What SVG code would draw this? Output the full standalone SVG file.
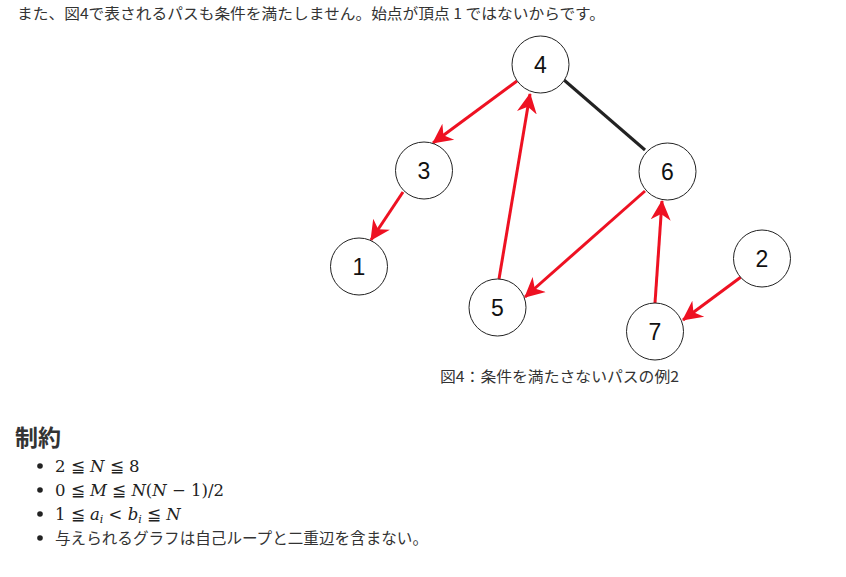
<svg xmlns="http://www.w3.org/2000/svg" width="846" height="577" viewBox="0 0 846 577">
<style>
.txt{font-family:"Noto Sans CJK JP","Liberation Sans",sans-serif;fill:#333}
.node circle{fill:#fff;stroke:#222;stroke-width:1}
.node text{font-family:"Liberation Sans","Noto Sans",sans-serif;font-size:23px;fill:#111;text-anchor:middle;dominant-baseline:central}
.red{stroke:#ee1122;stroke-width:3;fill:none}
.blk{stroke:#222;stroke-width:3;fill:none}
.math{font-family:"DejaVu Serif","Liberation Serif",serif;font-size:16.5px;fill:#222}
.it{font-style:italic}
</style>
<defs>
<marker id="ah" markerWidth="22" markerHeight="22" viewBox="0 0 22 22" refX="19" refY="11" orient="auto" markerUnits="userSpaceOnUse">
<path d="M0,1 L20,11 L0,21 L6,11 Z" fill="#ee1122"/>
</marker>
</defs>
<rect width="846" height="577" fill="#fff"/>
<text class="txt" x="17" y="19" font-size="15" textLength="588" lengthAdjust="spacingAndGlyphs">また、図4で表されるパスも条件を満たしません。始点が頂点 1 ではないからです。</text>
<g id="connectors">
<line class="blk" x1="564" y1="80" x2="645" y2="150"/>
<line class="red" x1="517" y1="81" x2="433" y2="143" marker-end="url(#ah)"/>
<line class="red" x1="403" y1="192" x2="371" y2="240" marker-end="url(#ah)"/>
<line class="red" x1="499" y1="279" x2="530" y2="94" marker-end="url(#ah)"/>
<line class="red" x1="645" y1="191" x2="525" y2="297" marker-end="url(#ah)"/>
<line class="red" x1="655" y1="303" x2="662" y2="201" marker-end="url(#ah)"/>
<line class="red" x1="741" y1="277" x2="683" y2="320" marker-end="url(#ah)"/>
</g>
<g id="node4" class="node"><circle cx="540.5" cy="64.5" r="28.5"/><text x="540.5" y="65">4</text></g>
<g id="node3" class="node"><circle cx="424" cy="170.5" r="28.5"/><text x="424" y="171">3</text></g>
<g id="node6" class="node"><circle cx="667.5" cy="171.5" r="28.5"/><text x="667.5" y="172">6</text></g>
<g id="node1" class="node"><circle cx="359" cy="266.5" r="28.5"/><text x="359" y="267">1</text></g>
<g id="node2" class="node"><circle cx="762" cy="258.5" r="28.5"/><text x="762" y="259">2</text></g>
<g id="node5" class="node"><circle cx="497.5" cy="307.5" r="28.5"/><text x="497.5" y="308">5</text></g>
<g id="node7" class="node"><circle cx="655" cy="331.5" r="28.5"/><text x="655" y="332">7</text></g>
<text class="txt" x="440" y="382" font-size="15" textLength="239" lengthAdjust="spacingAndGlyphs">図4：条件を満たさないパスの例2</text>
<text class="txt" x="15" y="446" font-size="23" font-weight="bold">制約</text>
<g fill="#222">
<circle cx="40" cy="466" r="2.8"/>
<circle cx="40" cy="490" r="2.8"/>
<circle cx="40" cy="514" r="2.8"/>
<circle cx="40" cy="538" r="2.8"/>
</g>
<text class="math" x="55" y="472">2 ≦ <tspan class="it">N</tspan> ≦ 8</text>
<text class="math" x="55" y="496">0 ≦ <tspan class="it">M</tspan> ≦ <tspan class="it">N</tspan>(<tspan class="it">N</tspan> − 1)/2</text>
<text class="math" x="55" y="520">1 ≦ <tspan class="it">a</tspan><tspan class="it" font-size="11" dy="3">i</tspan><tspan dy="-3"> &lt; </tspan><tspan class="it">b</tspan><tspan class="it" font-size="11" dy="3">i</tspan><tspan dy="-3"> ≦ </tspan><tspan class="it">N</tspan></text>
<text class="txt" x="55" y="544" font-size="15.5" textLength="373" lengthAdjust="spacingAndGlyphs">与えられるグラフは自己ループと二重辺を含まない。</text>
</svg>
